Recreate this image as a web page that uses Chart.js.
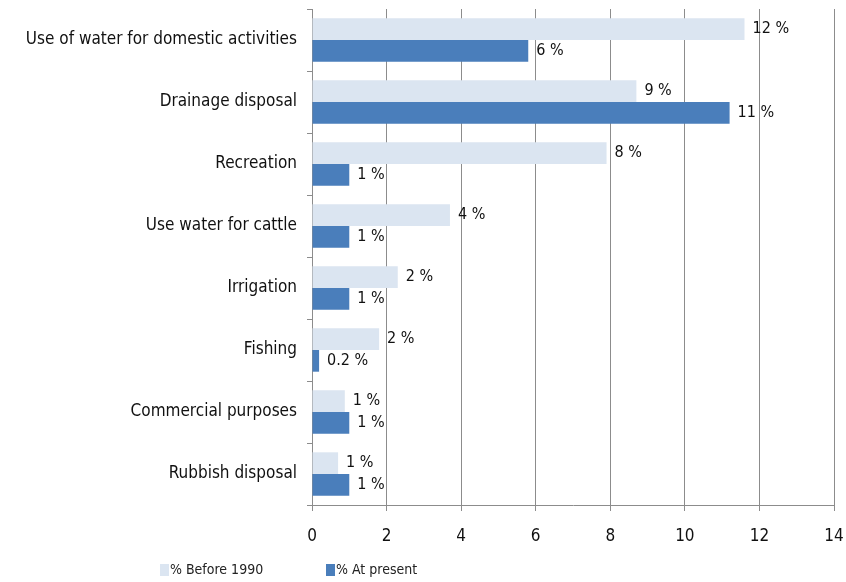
<!DOCTYPE html>
<html>
<head>
<meta charset="utf-8">
<script src="https://cdn.jsdelivr.net/npm/chart.js@4/dist/chart.umd.min.js"></script>
<style>
  html, body { margin: 0; padding: 0; background: #fff; }
  #wrap { width: 846px; height: 582px; }
</style>
</head>
<body>
<div id="wrap"><canvas id="uses" width="846" height="582"></canvas></div>
<script>
// categories, top to bottom
const categories = ['Use of water for domestic activities', 'Drainage disposal', 'Recreation',
  'Use water for cattle', 'Irrigation', 'Fishing', 'Commercial purposes', 'Rubbish disposal'];
// bar lengths
const before1990 = [11.6, 8.7, 7.9, 3.7, 2.3, 1.8, 0.88, 0.7];
const atPresent = [5.8, 11.2, 1.0, 1.0, 1.0, 0.19, 1.0, 1.0];
// printed labels next to the bars
const beforeLabels = ['12 %', '9 %', '8 %', '4 %', '2 %', '2 %', '1 %', '1 %'];
const presentLabels = ['6 %', '11 %', '1 %', '1 %', '1 %', '0.2 %', '1 %', '1 %'];
const xTicks = [0, 2, 4, 6, 8, 10, 12, 14];

const FONT = '"Liberation Sans Narrow", "DejaVu Sans Condensed", sans-serif';
const GRID = '#8c8c8c';

// value labels at the end of each bar
const barLabels = {
  id: 'barLabels',
  afterDatasetsDraw(chart) {
    const ctx = chart.ctx;
    const texts = [beforeLabels, presentLabels];
    ctx.save();
    ctx.font = '16px ' + FONT;
    ctx.fillStyle = '#111';
    ctx.textBaseline = 'middle';
    chart.data.datasets.forEach((ds, i) => {
      chart.getDatasetMeta(i).data.forEach((bar, j) => {
        ctx.fillText(texts[i][j], bar.x + 8, bar.y);
      });
    });
    ctx.restore();
  }
};

// legend sits bottom left, under the category labels
const bottomLegend = {
  id: 'bottomLegend',
  afterDraw(chart) {
    const ctx = chart.ctx;
    const xs = [160, 326];
    ctx.save();
    ctx.font = '14px ' + FONT;
    ctx.textBaseline = 'middle';
    chart.data.datasets.forEach((ds, i) => {
      ctx.fillStyle = ds.backgroundColor;
      ctx.fillRect(xs[i], 564, 9, 12);
      ctx.fillStyle = '#222';
      ctx.fillText(ds.label, xs[i] + 10, 570);
    });
    ctx.restore();
  }
};

new Chart(document.getElementById('uses').getContext('2d'), {
  type: 'bar',
  data: {
    labels: categories,
    datasets: [
      { label: '% Before 1990', data: before1990, backgroundColor: '#dbe5f1',
        categoryPercentage: 0.7, barPercentage: 1.0 },
      { label: '% At present', data: atPresent, backgroundColor: '#4a7ebb',
        categoryPercentage: 0.7, barPercentage: 1.0 }
    ]
  },
  options: {
    indexAxis: 'y',
    responsive: false,
    animation: false,
    layout: { padding: { top: 9, right: 12, left: 0, bottom: 0 } },
    plugins: {
      legend: { display: false },
      tooltip: { enabled: false }
    },
    scales: {
      x: {
        min: 0, max: 14,
        afterBuildTicks(axis) { axis.ticks = xTicks.map(v => ({ value: v })); },
        afterFit(axis) { axis.height = 77; axis.paddingLeft = 0; axis.paddingRight = 0; },
        grid: { color: GRID, tickLength: 6, tickColor: GRID },
        border: { color: GRID },
        ticks: { color: '#111', padding: 15, font: { family: FONT, size: 17 } }
      },
      y: {
        afterFit(axis) { axis.width = 312; axis.paddingTop = 0; axis.paddingBottom = 0; },
        grid: { drawOnChartArea: false, tickLength: 5, tickColor: GRID, offset: true },
        border: { color: GRID },
        ticks: { color: '#111', padding: 10, font: { family: FONT, size: 17 } }
      }
    }
  },
  plugins: [barLabels, bottomLegend]
});
</script>
</body>
</html>
